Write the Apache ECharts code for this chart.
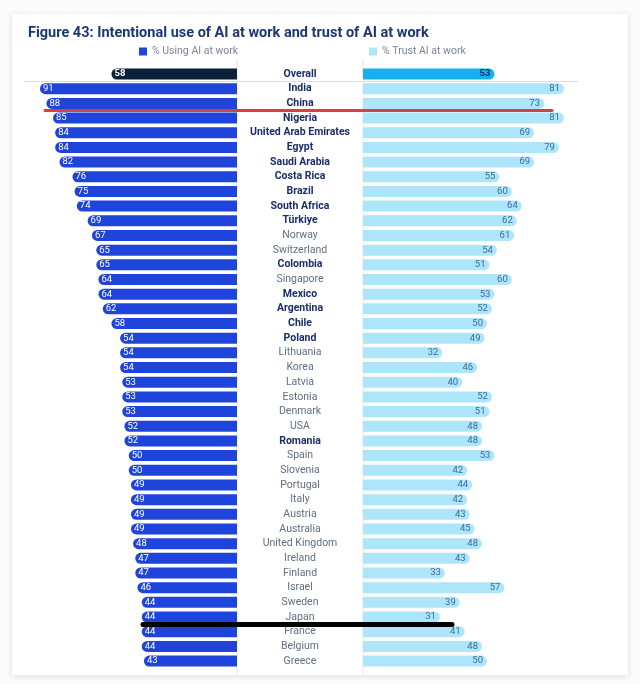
<html>
<head>
<meta charset="UTF-8">
<title>Figure 43</title>
<script src="https://cdn.jsdelivr.net/npm/echarts@6/dist/echarts.min.js"></script>
<style>html,body,#main{width:100%;height:100%;margin:0;padding:0;background:#fbfbfb;}</style>
</head>
<body>
<div id="main"></div>
<script>
// categories, top to bottom
var countries = ['Overall', 'India', 'China', 'Nigeria', 'United Arab Emirates', 'Egypt', 'Saudi Arabia',
  'Costa Rica', 'Brazil', 'South Africa', 'Türkiye', 'Norway', 'Switzerland', 'Colombia', 'Singapore',
  'Mexico', 'Argentina', 'Chile', 'Poland', 'Lithuania', 'Korea', 'Latvia', 'Estonia', 'Denmark', 'USA',
  'Romania', 'Spain', 'Slovenia', 'Portugal', 'Italy', 'Austria', 'Australia', 'United Kingdom', 'Ireland',
  'Finland', 'Israel', 'Sweden', 'Japan', 'France', 'Belgium', 'Greece'];
// emerging economies are set in bold
var boldNames = ['Overall', 'India', 'China', 'Nigeria', 'United Arab Emirates', 'Egypt', 'Saudi Arabia',
  'Costa Rica', 'Brazil', 'South Africa', 'Türkiye', 'Colombia', 'Mexico', 'Argentina', 'Chile', 'Poland', 'Romania'];
var usingAI = [58, 91, 88, 85, 84, 84, 82, 76, 75, 74, 69, 67, 65, 65, 64, 64, 62, 58, 54, 54,
  54, 53, 53, 53, 52, 52, 50, 50, 49, 49, 49, 49, 48, 47, 47, 46, 44, 44, 44, 44, 43];
var trustAI = [53, 81, 73, 81, 69, 79, 69, 55, 60, 64, 62, 61, 54, 51, 60, 53, 52, 50, 49, 32,
  46, 40, 52, 51, 48, 48, 53, 42, 44, 42, 43, 45, 48, 43, 33, 57, 39, 31, 41, 48, 50];

var chart = echarts.init(document.getElementById('main'));

var useData = usingAI.map(function (v, i) {
  if (i === 0) {
    return { value: v, itemStyle: { color: '#0b2039' }, label: { fontWeight: 'bold' } };
  }
  return v;
});
var trustData = trustAI.map(function (v, i) {
  if (i === 0) {
    return { value: v, itemStyle: { color: '#14b1ee' }, label: { fontWeight: 'bold', color: '#15306e' } };
  }
  return v;
});

var option = {
  backgroundColor: '#fbfbfb',
  animation: false,
  title: {
    text: 'Figure 43: Intentional use of AI at work and trust of AI at work',
    left: 23,
    top: 21,
    textStyle: { fontFamily: 'Roboto, sans-serif', fontSize: 14.5, fontWeight: 'bold', color: '#1c3773' }
  },
  legend: [{
    data: ['% Using AI at work'],
    left: 134, top: 41,
    icon: 'rect', itemWidth: 8, itemHeight: 8, itemGap: 5,
    textStyle: { fontFamily: 'Roboto, sans-serif', fontSize: 10.5, color: '#7b8696' }
  }, {
    data: ['% Trust AI at work'],
    left: 364, top: 41,
    icon: 'rect', itemWidth: 8, itemHeight: 8, itemGap: 5,
    textStyle: { fontFamily: 'Roboto, sans-serif', fontSize: 10.5, color: '#7b8696' }
  }],
  grid: [
    { left: 20.5, width: 216.5, top: 66.7, bottom: 15.6 },
    { left: 363, width: 248, top: 66.7, bottom: 15.6 }
  ],
  xAxis: [
    { gridIndex: 0, type: 'value', min: 0, max: 100, inverse: true, show: false },
    { gridIndex: 1, type: 'value', min: 0, max: 100, show: false }
  ],
  yAxis: [
    { gridIndex: 0, type: 'category', data: countries, inverse: true, show: false },
    {
      gridIndex: 1, type: 'category', data: countries, inverse: true,
      axisLine: { show: false }, axisTick: { show: false },
      axisLabel: {
        interval: 0, margin: 63, align: 'center',
        formatter: function (v) {
          return boldNames.indexOf(v) >= 0 ? '{b|' + v + '}' : '{r|' + v + '}';
        },
        rich: {
          b: { fontFamily: 'Roboto, sans-serif', fontSize: 10.5, fontWeight: 'bold', color: '#1b2d6b' },
          r: { fontFamily: 'Roboto, sans-serif', fontSize: 10.5, color: '#5f6e84' }
        }
      }
    }
  ],
  series: [{
    name: '% Using AI at work',
    type: 'bar',
    xAxisIndex: 0, yAxisIndex: 0,
    data: useData,
    barWidth: 11,
    itemStyle: { color: '#1f44dc', borderRadius: [5.5, 0, 0, 5.5] },
    label: {
      show: true, position: 'insideLeft', distance: 3,
      color: '#ffffff', fontSize: 9.5, fontFamily: 'Roboto, sans-serif'
    }
  }, {
    name: '% Trust AI at work',
    type: 'bar',
    xAxisIndex: 1, yAxisIndex: 1,
    data: trustData,
    barWidth: 11,
    itemStyle: { color: '#ade5fa', borderRadius: [0, 5.5, 5.5, 0] },
    label: {
      show: true, position: 'insideRight', distance: 4,
      color: '#3a6b9c', fontSize: 9.5, fontFamily: 'Roboto, sans-serif'
    }
  }],
  graphic: [
    // card
    { type: 'rect', z: -10, shape: { x: 12, y: 14, width: 616, height: 661 },
      style: { fill: '#ffffff', shadowBlur: 6, shadowColor: 'rgba(0,0,0,0.12)', shadowOffsetY: 1 } },
    // column separators
    { type: 'line', z: -5, shape: { x1: 237, y1: 59, x2: 237, y2: 675 }, style: { stroke: '#e8e8df', lineWidth: 1 } },
    { type: 'line', z: -5, shape: { x1: 363, y1: 59, x2: 363, y2: 675 }, style: { stroke: '#e8e8df', lineWidth: 1 } },
    // rule under Overall
    { type: 'line', z: -5, shape: { x1: 24, y1: 81.5, x2: 578, y2: 81.5 }, style: { stroke: '#dcdcdc', lineWidth: 1 } },
    // hand-drawn marks
    { type: 'line', z: 100, shape: { x1: 45, y1: 110.5, x2: 552, y2: 110.5 }, style: { stroke: '#d6403e', lineWidth: 3, lineCap: 'round' } },
    { type: 'line', z: 100, shape: { x1: 143, y1: 624.5, x2: 452, y2: 624.5 }, style: { stroke: '#000000', lineWidth: 5, lineCap: 'round' } }
  ]
};
chart.setOption(option);
</script>
</body>
</html>
